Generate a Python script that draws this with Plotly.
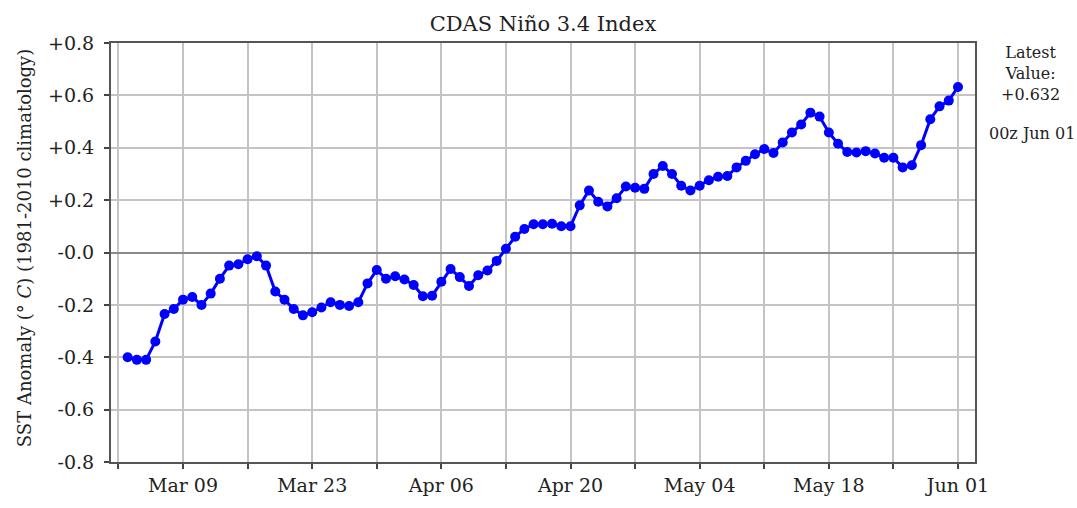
import plotly.graph_objects as go
import pandas as pd

# Daily CDAS Nino 3.4 index values (00z), Mar 03 .. Jun 01
start_date = "2023-03-03"
anomaly = [
    -0.40, -0.41, -0.41, -0.34, -0.235, -0.216, -0.18, -0.17, -0.20, -0.157,
    -0.10, -0.05, -0.045, -0.026, -0.014, -0.05, -0.149, -0.18, -0.216, -0.24,
    -0.228, -0.21, -0.19, -0.20, -0.204, -0.19, -0.118, -0.067, -0.10, -0.091,
    -0.103, -0.124, -0.167, -0.165, -0.112, -0.063, -0.094, -0.128, -0.087, -0.069,
    -0.032, 0.014, 0.06, 0.09, 0.108, 0.108, 0.11, 0.10, 0.10, 0.18,
    0.237, 0.194, 0.176, 0.207, 0.252, 0.247, 0.243, 0.30, 0.33, 0.30,
    0.255, 0.237, 0.255, 0.276, 0.289, 0.292, 0.325, 0.35, 0.375, 0.395,
    0.38, 0.42, 0.458, 0.489, 0.534, 0.519, 0.458, 0.415, 0.384, 0.382,
    0.387, 0.378, 0.362, 0.362, 0.325, 0.333, 0.41, 0.509, 0.558, 0.58,
    0.632,
]
dates = pd.date_range(start_date, periods=len(anomaly), freq="D")

week_ticks = ["2023-03-02", "2023-03-09", "2023-03-16", "2023-03-23", "2023-03-30",
              "2023-04-06", "2023-04-13", "2023-04-20", "2023-04-27", "2023-05-04",
              "2023-05-11", "2023-05-18", "2023-05-25", "2023-06-01"]
week_labels = ["", "Mar 09", "", "Mar 23", "", "Apr 06", "", "Apr 20", "",
               "May 04", "", "May 18", "", "Jun 01"]
y_ticks = [0.8, 0.6, 0.4, 0.2, 0.0, -0.2, -0.4, -0.6, -0.8]
y_labels = ["+0.8", "+0.6", "+0.4", "+0.2", "-0.0", "-0.2", "-0.4", "-0.6", "-0.8"]

title_text = "CDAS Niño 3.4 Index"
ylabel_text = "SST Anomaly (° <i>C</i>) (1981-2010 climatology)"
latest_text = "Latest<br>Value:<br>+0.632"
latest_time = "00z Jun 01"

FONT = "DejaVu Serif"

fig = go.Figure()
fig.add_trace(go.Scatter(
    x=dates, y=anomaly, mode="lines+markers",
    line=dict(color="#0000ff", width=3),
    marker=dict(color="#0000ff", size=10),
    showlegend=False,
))

fig.update_layout(
    width=1077, height=508,
    margin=dict(l=111, r=102, t=43, b=30),
    paper_bgcolor="white", plot_bgcolor="white",
    font=dict(family=FONT, size=19, color="#222222"),
    title=dict(text=title_text, x=0.5, xref="paper", xanchor="center",
               y=(508 - 24) / 508, yref="container", yanchor="middle",
               font=dict(family=FONT, size=21, color="#222222")),
)

fig.update_xaxes(
    range=["2023-03-01 04:40", "2023-06-02 20:15"],
    tickmode="array", tickvals=week_ticks, ticktext=week_labels,
    ticks="outside", ticklen=5, tickwidth=1.5, tickcolor="#444444",
    showgrid=True, gridcolor="#c4c4c4", gridwidth=1.5,
    showline=True, linecolor="#555555", linewidth=2, mirror=True,
    tickfont=dict(family=FONT, size=19, color="#222222"),
    zeroline=False,
)
fig.update_yaxes(
    range=[-0.8, 0.8],
    tickmode="array", tickvals=y_ticks, ticktext=y_labels,
    ticks="outside", ticklen=5, tickwidth=1.5, tickcolor="#444444",
    ticklabelstandoff=6,
    showgrid=True, gridcolor="#c4c4c4", gridwidth=1.5,
    zeroline=True, zerolinecolor="#8a8a8a", zerolinewidth=2,
    showline=True, linecolor="#555555", linewidth=2, mirror=True,
    tickfont=dict(family=FONT, size=19, color="#222222"),
)

fig.add_annotation(
    text=ylabel_text, textangle=-90,
    xref="paper", yref="paper",
    x=(24 - 111) / 864, y=(478 - 256) / 435,
    xanchor="center", yanchor="middle", showarrow=False,
    font=dict(family=FONT, size=18, color="#222222"),
)
fig.add_annotation(
    text=latest_text,
    xref="paper", yref="paper",
    x=(1030 - 111) / 864, y=(478 - 75) / 435,
    xanchor="center", yanchor="middle", showarrow=False, align="center",
    font=dict(family=FONT, size=16, color="#222222"),
)
fig.add_annotation(
    text=latest_time,
    xref="paper", yref="paper",
    x=(1077 - 111) / 864, y=(478 - 137) / 435,
    xanchor="right", yanchor="middle", showarrow=False,
    font=dict(family=FONT, size=16, color="#222222"),
)

fig.write_html("out.html", config={"displayModeBar": False},
               post_script="document.body.style.margin='0px';")
